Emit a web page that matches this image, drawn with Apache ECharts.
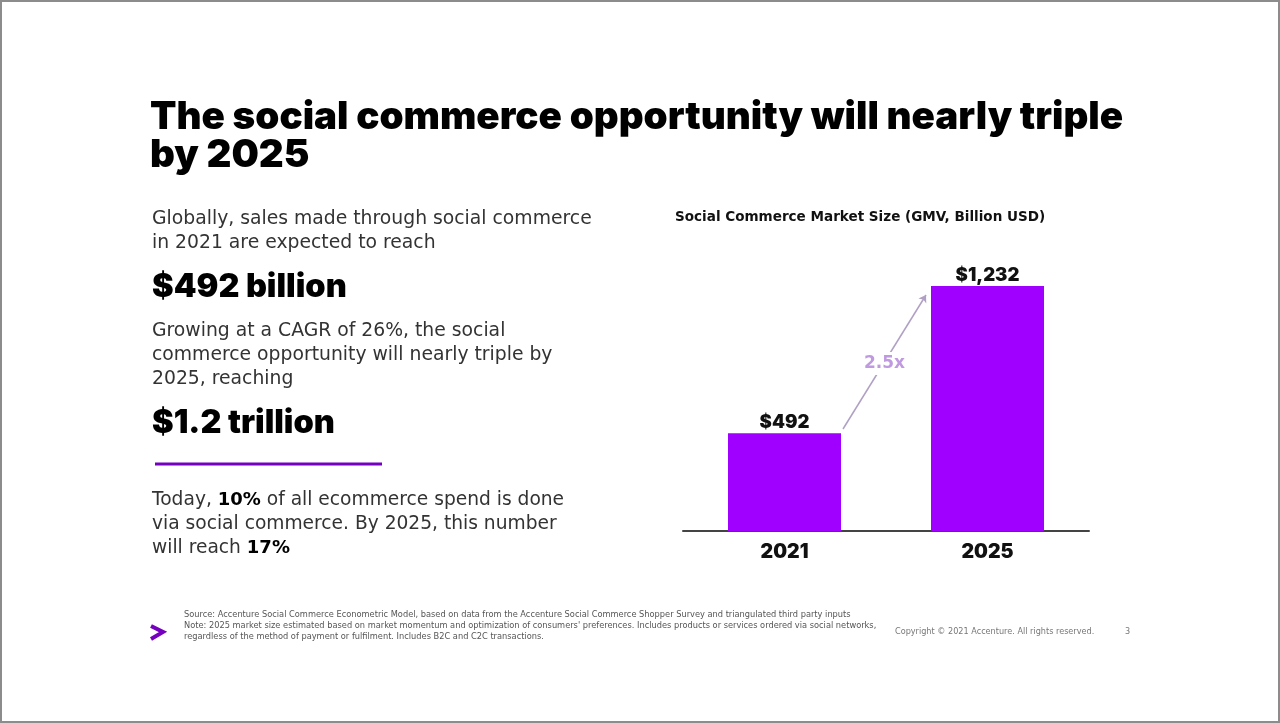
<!DOCTYPE html>
<html>
<head>
<meta charset="utf-8">
<title>Social commerce</title>
<script src="https://cdn.jsdelivr.net/npm/echarts@6/dist/echarts.min.js"></script>
<style>
html, body { margin: 0; padding: 0; background: #fff; }
#main { width: 1280px; height: 723px; }
</style>
</head>
<body>
<div id="main"></div>
<script>
// 数据
const years = ['2021', '2025'];
const marketSize = [492, 1232];
const marketLabels = ['$492', '$1,232'];
const growthLabel = '2.5x';
const chartTitle = 'Social Commerce Market Size (GMV, Billion USD)';

// 文字
const headline = ['The social commerce opportunity will nearly triple', 'by 2025'];
const intro = ['Globally, sales made through social commerce', 'in 2021 are expected to reach'];
const bigOne = '$492 billion';
const growing = ['Growing at a CAGR of 26%, the social', 'commerce opportunity will nearly triple by', '2025, reaching'];
const bigTwo = '$1.2 trillion';
const today = ['Today, {b|10%} of all ecommerce spend is done', 'via social commerce. By 2025, this number', 'will reach {b|17%}'];
const footnote = [
    'Source: Accenture Social Commerce Econometric Model, based on data from the Accenture Social Commerce Shopper Survey and triangulated third party inputs',
    'Note: 2025 market size estimated based on market momentum and optimization of consumers\' preferences. Includes products or services ordered via social networks,',
    'regardless of the method of payment or fulfilment. Includes B2C and C2C transactions.'
];
const copyright = 'Copyright \u00a9 2021 Accenture. All rights reserved.';
const pageNumber = '3';

const fontName = 'DejaVu Sans';
const headFont = 'Inter';
const purple = '#a000ff';
const darkPurple = '#7500c0';

function textItem(x, y, text, size, weight, color, extra) {
    return {
        type: 'text',
        x: x,
        y: y,
        style: Object.assign({
            text: text,
            fontFamily: fontName,
            fontSize: size,
            fontWeight: weight,
            fill: color,
            textVerticalAlign: 'middle'
        }, extra || {})
    };
}

function lines(x, ys, arr, size, weight, color, extra) {
    return arr.map(function (t, i) {
        return textItem(x, ys[i], t, size, weight, color, extra);
    });
}

let graphics = [
    // 外框
    { type: 'rect', shape: { x: 1, y: 1, width: 1278, height: 721 }, style: { fill: 'none', stroke: '#8c8c8c', lineWidth: 2 } }
];
graphics = graphics.concat(
    lines(150, [117, 155], headline, 38.6, 900, '#000', { fontFamily: headFont }),
    lines(152, [219, 243], intro, 18.8, 400, '#333'),
    [textItem(152, 287, bigOne, 32.5, 900, '#000', { fontFamily: headFont })],
    lines(152, [331, 355, 379], growing, 18.8, 400, '#333'),
    [textItem(152, 423, bigTwo, 32.5, 900, '#000', { fontFamily: headFont })],
    lines(152, [500, 524, 548], today, 18.65, 400, '#333', {
        rich: {
            b: { fontFamily: fontName, fontSize: 18, fontWeight: 700, fill: '#000' }
        }
    }),
    [textItem(675, 217, chartTitle, 13.55, 700, '#111')],
    lines(184, [615, 626, 637], footnote, 8.25, 400, '#555'),
    [textItem(895, 632, copyright, 8.15, 400, '#777')],
    [textItem(1125, 632, pageNumber, 8.15, 400, '#777')],
    [
        // 分隔线
        { type: 'line', shape: { x1: 155, y1: 464, x2: 382, y2: 464 }, style: { stroke: darkPurple, lineWidth: 3 } },
        // logo
        { type: 'polyline', shape: { points: [[151, 626], [163, 632], [151, 639]] }, style: { fill: 'none', stroke: darkPurple, lineWidth: 4 } }
    ]
);

const chart = echarts.init(document.querySelector('#main'), null, { renderer: 'canvas' });

const option = {
    animation: false,
    backgroundColor: '#fff',
    textStyle: { fontFamily: fontName },
    grid: { left: 683, right: 191, top: 286, bottom: 192 },
    xAxis: {
        type: 'category',
        data: years,
        axisTick: { show: false },
        axisLine: { lineStyle: { color: '#444', width: 2 } },
        axisLabel: { color: '#111', fontFamily: headFont, fontSize: 19.5, fontWeight: 900, margin: 11 }
    },
    yAxis: {
        type: 'value',
        min: 0,
        max: 1232,
        show: false
    },
    series: [{
        type: 'bar',
        barWidth: 113,
        data: marketSize,
        itemStyle: { color: purple },
        label: {
            show: true,
            position: 'top',
            distance: 1,
            color: '#111',
            fontFamily: headFont,
            fontSize: 18.5,
            fontWeight: 900,
            formatter: function (p) {
                return marketLabels[p.dataIndex];
            }
        },
        markLine: {
            silent: true,
            symbol: ['none', 'arrow'],
            symbolSize: 7,
            lineStyle: { color: '#b0a0c4', width: 1.5, type: 'solid' },
            label: {
                show: true,
                position: 'middle',
                rotate: 0,
                distance: 0,
                offset: [0, 13],
                formatter: growthLabel,
                color: '#c09ae0',
                fontFamily: fontName,
                fontSize: 17,
                fontWeight: 700,
                backgroundColor: '#fff',
                padding: [3, 2]
            },
            data: [[
                { x: 843, y: 429 },
                { x: 926, y: 295 }
            ]]
        }
    }],
    graphic: { elements: graphics }
};

chart.setOption(option);
</script>
</body>
</html>
